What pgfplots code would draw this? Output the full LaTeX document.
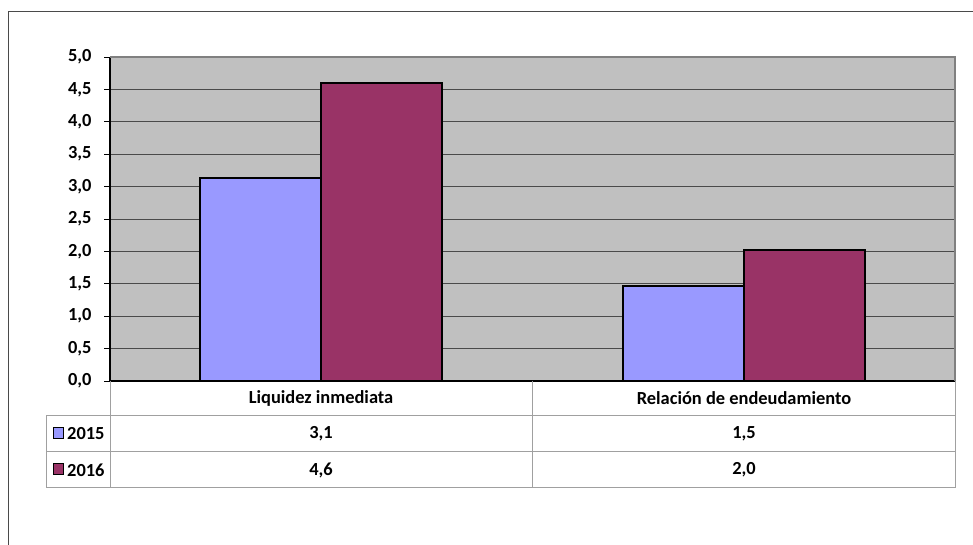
\documentclass[border=0pt]{standalone}
\usepackage{fontspec}
\setmainfont{Carlito}
\usepackage{pgfplots}
\usepackage{pgfplotstable}
\pgfplotsset{compat=1.18}

\definecolor{serA}{HTML}{9999FF}
\definecolor{serB}{HTML}{993366}
\definecolor{plotbg}{HTML}{C0C0C0}
\definecolor{gridc}{HTML}{4A4A4A}
\definecolor{tablec}{HTML}{A0A0A0}

% categories at 0.5 and 1.5
\pgfplotstableread{
x   y2015 y2016
0.5 3.13  4.60
1.5 1.47  2.02
}\datos

\newcommand{\lbl}{\fontsize{18.5}{21}\selectfont\bfseries}
\newcommand{\cell}[2]{\pgfplotstablegetelem{#1}{#2}\of\datos
  \pgfmathprintnumber[fixed,fixed zerofill,precision=1,use comma,assume math mode=true]{\pgfplotsretval}}

\begin{document}
\begin{tikzpicture}[x=1bp,y=1bp]
\useasboundingbox (0,0) rectangle (973,545);
% outer chart frame (cropped)
\draw[gridc, line width=1bp] (8,-10) -- (8,533) -- (990,533);

\begin{axis}[
    at={(110bp,164bp)}, anchor=south west,
    width=845bp, height=324bp, scale only axis,
    xmin=0, xmax=2, ymin=0, ymax=5,
    enlargelimits=false, clip=false,
    ybar=0pt, bar width=121bp,
    axis background/.style={fill=plotbg},
    axis lines=left, axis line style={-, black, line width=1.3bp},
    xtick=\empty,
    ytick={0,0.5,1,1.5,2,2.5,3,3.5,4,4.5,5},
    yticklabel style={xshift=-9bp, /pgf/number format/.cd, fixed, fixed zerofill, precision=1, use comma, assume math mode=true},
    ticklabel style={font=\lbl},
    tick align=outside, major tick length=6bp,
    tick style={black, line width=0.8bp},
    ymajorgrids, grid style={gridc, line width=0.8bp},
]
\addplot[fill=serA, draw=black, line width=1.6bp] table[x=x, y=y2015] {\datos};
\addplot[fill=serB, draw=black, line width=1.6bp] table[x=x, y=y2016] {\datos};
\draw[gray, line width=1.5bp] (rel axis cs:0,1) -- (rel axis cs:1,1) -- (rel axis cs:1,0);
\end{axis}

% data table
\draw[tablec, line width=1bp]
  (110,164) -- (110,57)
  (532,164) -- (532,57)
  (955,164) -- (955,57)
  (46,129) -- (955,129)
  (46,93) -- (955,93)
  (46,57) -- (955,57)
  (46,129) -- (46,57);

\node[font=\lbl] at (321,147) {Liquidez inmediata};
\node[font=\lbl] at (744,147) {Relación de endeudamiento};
\node[font=\lbl] at (321,111) {\cell{0}{y2015}};
\node[font=\lbl] at (744,111) {\cell{1}{y2015}};
\node[font=\lbl] at (321,75) {\cell{0}{y2016}};
\node[font=\lbl] at (744,75) {\cell{1}{y2016}};

\filldraw[fill=serA, draw=black, line width=1bp] (53,106) rectangle (63,117);
\filldraw[fill=serB, draw=black, line width=1bp] (53,70) rectangle (63,81);
\node[font=\lbl, anchor=west, inner sep=0pt] at (67,111) {2015};
\node[font=\lbl, anchor=west, inner sep=0pt] at (67,75) {2016};
\end{tikzpicture}
\end{document}
